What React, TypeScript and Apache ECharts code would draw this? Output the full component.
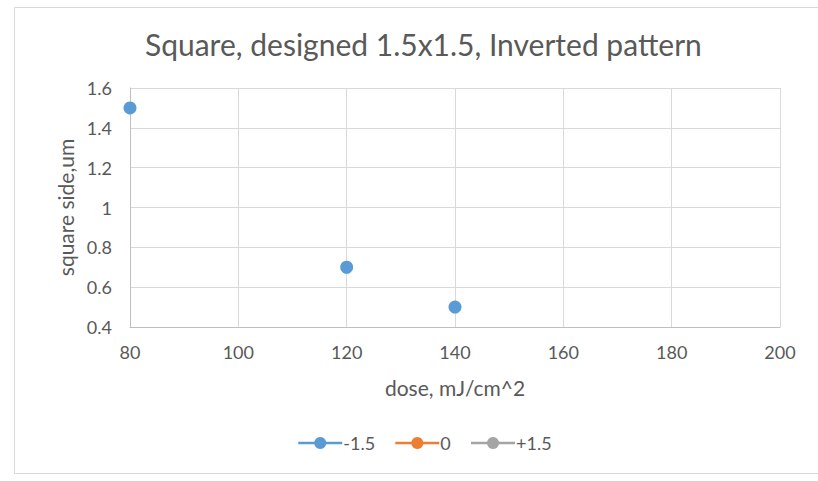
import React, { useEffect, useRef } from "react";
import * as echarts from "echarts";

const seriesNames = ["-1.5", "0", "+1.5"];
const seriesColors = ["#5b9bd5", "#ed7d31", "#a5a5a5"];
const doseNeg15 = [80, 120, 140];
const sideNeg15 = [1.5, 0.7, 0.5];
const dose0: number[] = [];
const side0: number[] = [];
const dosePos15: number[] = [];
const sidePos15: number[] = [];

const titleText = "Square, designed 1.5x1.5, Inverted pattern";
const xAxisName = "dose, mJ/cm^2";
const yAxisName = "square side,um";

const FONT = "Lato, 'Noto Sans', sans-serif";
const TEXT = "#595959";

export default function App() {
  const ref = useRef<HTMLDivElement>(null);
  useEffect(() => {
    if (!ref.current) return;
    const chart = echarts.init(ref.current, undefined, { renderer: "svg" });
    const pairs = (xs: number[], ys: number[]) => xs.map((x, i) => [x, ys[i]]);
    const datasets = [
      pairs(doseNeg15, sideNeg15),
      pairs(dose0, side0),
      pairs(dosePos15, sidePos15),
    ];
    chart.setOption({
      animation: false,
      backgroundColor: "#ffffff",
      textStyle: { fontFamily: FONT, color: TEXT },
      title: {
        text: titleText,
        left: 140,
        top: 24,
        textStyle: { fontFamily: FONT, fontSize: 30, fontWeight: "normal", color: TEXT },
      },
      graphic: [
        {
          type: "rect",
          shape: { x: 14.5, y: 7.5, width: 820, height: 466 },
          style: { fill: "none", stroke: "#d9d9d9", lineWidth: 1 },
          silent: true,
          z: -1,
        },
      ],
      legend: {
        top: 429,
        left: 292,
        itemWidth: 44,
        itemHeight: 15,
        itemGap: 19,
        data: seriesNames.map((n, i) => ({
          name: n,
          itemStyle: { color: seriesColors[i] },
          lineStyle: { color: seriesColors[i], width: 2.5, opacity: 1 },
        })),
        textStyle: { fontFamily: FONT, fontSize: 18, color: TEXT, padding: [0, 0, 0, -4] },
      },
      grid: { left: 130, right: 38, top: 88, bottom: 154 },
      xAxis: {
        type: "value",
        min: 80,
        max: 200,
        interval: 20,
        name: xAxisName,
        nameLocation: "middle",
        nameGap: 50,
        nameTextStyle: { fontFamily: FONT, fontSize: 21, color: TEXT },
        axisLine: { show: true, lineStyle: { color: "#bfbfbf" } },
        axisTick: { show: false },
        axisLabel: { fontFamily: FONT, fontSize: 18, color: TEXT, margin: 16 },
        splitLine: { show: true, lineStyle: { color: "#d9d9d9" } },
      },
      yAxis: {
        type: "value",
        min: 0.4,
        max: 1.6,
        interval: 0.2,
        name: yAxisName,
        nameLocation: "middle",
        nameGap: 52,
        nameTextStyle: { fontFamily: FONT, fontSize: 21, color: TEXT },
        axisLine: { show: true, lineStyle: { color: "#bfbfbf" } },
        axisTick: { show: false },
        axisLabel: {
          fontFamily: FONT,
          fontSize: 18,
          color: TEXT,
          margin: 18,
          formatter: (v: number) => String(Math.round(v * 10) / 10),
        },
        splitLine: { show: true, lineStyle: { color: "#d9d9d9" } },
      },
      series: seriesNames.map((n, i) => ({
        name: n,
        type: "line",
        data: datasets[i],
        symbol: "circle",
        symbolSize: 13,
        itemStyle: { color: seriesColors[i] },
        lineStyle: { color: seriesColors[i], width: 2.5, opacity: 0 },
      })),
    });
    return () => chart.dispose();
  }, []);
  return (
    <div
      ref={ref}
      style={{ position: "fixed", left: 0, top: 0, width: 818, height: 481 }}
    />
  );
}
